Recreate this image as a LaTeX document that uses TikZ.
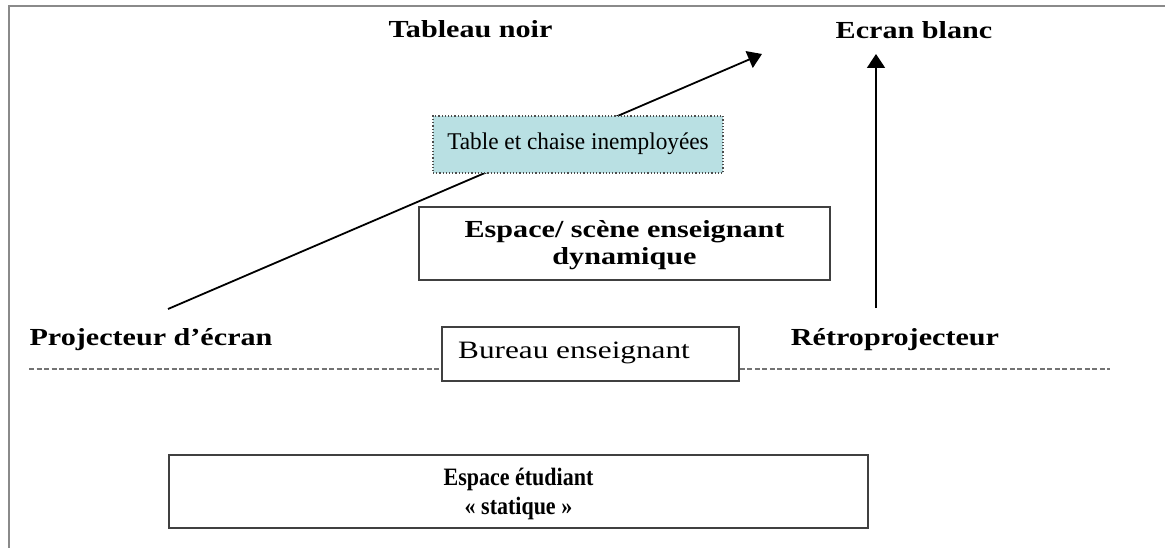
\documentclass[tikz,border=0pt]{standalone}
\usepackage{fontspec}
\setmainfont{Liberation Serif}
\newfontfamily\widefont{Liberation Serif}[FakeStretch=1.23]
\newfontfamily\bureaufont{Liberation Serif}[FakeStretch=1.25]
\newfontfamily\narrowfont{Liberation Serif}[FakeStretch=0.97]
\newfontfamily\condfont{Liberation Serif}[FakeStretch=0.88]
\usetikzlibrary{arrows.meta}
\definecolor{framegray}{HTML}{8A8A8A}
\definecolor{tealfill}{HTML}{B9E0E3}
\begin{document}
\begin{tikzpicture}[x=1pt,y=-1pt,
  lbl/.style={inner sep=0pt,anchor=base,font=\widefont\bfseries\fontsize{24.5}{27}\selectfont},
  boxnode/.style={draw=black!75,line width=1.5pt,fill=white,inner sep=0pt,align=center},
  arr/.style={line width=1.8pt,-{Triangle[length=14pt,width=18pt]}},
  dashline/.style={draw=black!55,line width=1.4pt,dash pattern=on 5pt off 2.5pt}]
\useasboundingbox (0,0) rectangle (1165,548);
\fill[white] (0,0) rectangle (1165,548);
\draw[framegray,line width=2.2pt] (9,549) -- (9,6) -- (1166,6);
% free ends of connectors
\coordinate (pa) at (168,309);
\coordinate (pb) at (762,54);
\coordinate (ra) at (876,308);
\coordinate (rb) at (876,54);
\draw[arr] (pa) -- (pb);
\draw[arr] (ra) -- (rb);
% labels
\node[lbl] (tableau) at (470.5,37.5) {Tableau noir};
\node[lbl] (ecran) at (914,38.5) {Ecran blanc};
\node[lbl] (proj) at (151,345) {Projecteur d’écran};
\node[lbl] (retro) at (895,345) {Rétroprojecteur};
% boxes
\node[draw=black!70,dotted,line width=1.2pt,fill=tealfill,inner sep=0pt,
  minimum width=290pt,minimum height=57pt,text height=16pt,text depth=5pt,
  font=\narrowfont\fontsize{24}{28}\selectfont] (table) at (578,144.5) {Table et chaise inemployées};
\node[boxnode,minimum width=411pt,minimum height=73pt,
  font=\widefont\bfseries\fontsize{24.5}{27}\selectfont] (scene) at (624.5,243.5)
  {\rule{0pt}{22pt}Espace/ scène enseignant\\\rule[-6pt]{0pt}{6pt}dynamique};
\node[boxnode,minimum width=297pt,minimum height=54pt,text height=14pt,text depth=6pt,
  font=\bureaufont\fontsize{25}{28}\selectfont] (bureau) at (590.5,354) {Bureau enseignant\hspace*{33pt}};
\node[boxnode,minimum width=699pt,minimum height=73pt,
  font=\condfont\bfseries\fontsize{25}{29}\selectfont] (etud) at (518.5,491.5)
  {\rule{0pt}{23pt}Espace étudiant\\\rule[-5pt]{0pt}{5pt}« statique »};
% dashed separation
\coordinate (dl) at (29,369);
\coordinate (dr) at (1110,369);
\draw[dashline] (dl) -- (dl -| bureau.west);
\draw[dashline] (dr -| bureau.east) -- (dr);
\end{tikzpicture}
\end{document}
